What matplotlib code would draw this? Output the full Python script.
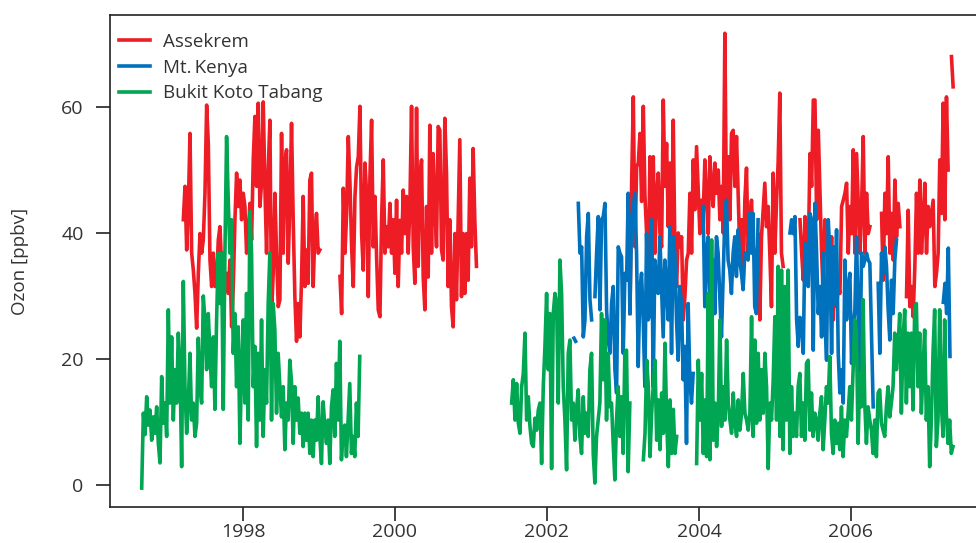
import numpy as np
import matplotlib
matplotlib.use("Agg")
import matplotlib.pyplot as plt

plt.rcParams['font.family'] = ['Open Sans', 'DejaVu Sans']

nan = np.nan
step = 8 / 365.25   # one value every 8 days

# Assekrem (ppbv), segments with their start dates (decimal years)
ass_start = [1997.215, 1999.276, 2003.092, 2005.329]
ass_vals = [
    [42.1, 47.4, 37.3, 44.2, 55.8, 36.8, 34.1, 30.4, 24.9, 33.6,
     39.9, 36.8, 38.9, 46.3, 60.3, 54.2, 35.7, 31.5, 36.8, 31.5,
     32.5, 38.9, 41.0, 34.7, 36.8, 31.5, 33.6, 30.4, 35.7, 25.1,
     31.5, 42.1, 49.5, 44.2, 48.4, 42.1, 46.3, 44.2, 36.8, 39.9,
     44.7, 38.9, 51.6, 58.5, 47.4, 60.6, 44.2, 47.9, 60.8, 47.4,
     36.8, 50.0,
     57.9, 27.2, 33.6, 46.3, 36.8, 28.3, 29.4, 55.8, 36.8, 51.1,
     53.2, 35.2, 44.7, 57.4, 42.1, 29.9, 22.8, 28.8, 23.5, 32.5,
     45.8, 31.5, 37.3, 32.0, 48.4, 49.5, 31.5, 39.9, 43.1, 36.8, 37.3],
    [33.1, 27.2, 47.1, 36.8, 43.1, 55.3, 47.9, 37.8, 31.5, 45.8,
     50.5, 52.1, 60.1, 39.9, 34.1, 51.1, 46.3, 29.9, 48.9, 57.9,
     37.8, 45.8, 36.2, 27.8, 26.7, 42.1, 51.6, 36.8, 41.0, 37.8,
     44.7, 36.8, 42.1, 33.6, 45.2, 31.5,
     42.0, 36.8, 46.8, 39.9, 45.8, 36.8, 44.2, 60.1, 37.8, 32.0,
     59.8, 34.7, 48.4, 51.6, 33.0, 27.8, 44.2, 33.0, 57.1, 36.8,
     52.6, 44.2, 37.8, 56.9, 56.3, 37.3, 35.7, 58.2, 49.5, 31.5,
     42.1, 28.3, 25.1, 39.9, 29.4, 42.1, 54.8, 29.9, 39.9, 30.4,
     39.9, 32.5, 48.7, 37.8, 53.4, 42.1, 34.7],
    [27.2, 47.9, 61.6, 37.8, 50.5, 51.1,
     55.8, 45.0, 60.1, 45.8, 39.9, 33.6, 52.1, 35.7, 52.1, 36.8,
     46.3, 49.5, 40.0, 37.8, 61.1, 47.4, 54.2, 41.0, 51.1, 37.8,
     57.9, 36.8, 31.5, 40.0, 37.8, 39.4, 26.2, 29.9, 35.7, 36.8,
     46.3, 36.8, 51.6, 43.7, 53.7, 46.8, 39.9, 45.2, 43.1, 51.6,
     45.2, 39.9, 52.1, 47.4, 44.2, 51.1, 46.3, 50.0, 42.1, 47.4,
     40.0, 71.7, 42.1, 52.1, 42.1, 55.8, 56.3, 47.4, 55.3, 46.3,
     36.8, 42.1, 31.5, 45.2, 50.3, 36.8, 42.1, 45.2, 37.8, 36.8,
     31.5, 39.9, 26.2, 39.4, 43.7, 47.9, 41.0, 44.2, 36.8, 28.3,
     49.5, 36.8, 44.7, 51.1, 62.2, 36.8, 34.7],
    [42.1, 36.8, 32.5, 42.6, 39.4, 36.8, 52.6, 47.4, 61.1, 61.1,
     42.1, 56.3, 46.3, 36.8, 29.9, 42.1, 39.9, 36.8, 31.5, 39.4,
     26.2, 36.8, 28.3, 31.5, 30.4, 44.2, 45.2, 46.3, 47.9, 36.8,
     44.2, 39.9, 53.2, 36.8, 52.6, 44.7, 36.8, 44.2, 55.3, 36.8,
     46.3, 39.9, 41.0, nan, nan, nan, nan, nan, nan, 43.1,
     32.5, 46.3, 39.9, 52.1, 36.8, 43.1, 35.7, 48.4, 39.4, 44.7,
     41.0, nan, nan, nan, 29.9, 43.6, 28.3, 31.5, 26.7, 34.7,
     46.3, 36.8, 48.4, 36.8, 42.1, 47.9, 36.8, 44.2, 41.0, 43.1,
     45.2, 31.5, 33.6, 36.8, 51.6, 43.1, 60.6, 42.1, 61.6, 50.0,
     nan, 68.0, 63.2],
]

# Mt. Kenya (ppbv)
ken_start = [2002.355, 2002.412, 2005.197, 2007.215]
ken_vals = [
    [23.3, 22.8],
    [44.7, 36.8, 37.8, 23.5, 26.2, 39.4, 43.1, 29.4,
     26.2, nan, 29.9, 36.8, 42.6, 27.8, 42.1, 42.6, 44.7, 27.8,
     23.0, 20.9, 28.8, 31.5, 18.3, 14.6, 37.8, 36.8, 36.2, 20.9,
     33.6, 32.5, 46.3, 27.2, 42.1, 44.2, 46.3, 36.8, 18.8,
     31.0, 33.6, 26.2, 15.6, 39.9, 26.2, 27.2, 42.1, 15.6, 35.7,
     32.5, 30.4, 39.4, 31.5, 23.5, 35.7, 31.5, 26.2, 41.0, 20.9,
     39.4, 36.8, 26.2, 19.8, 31.5, 28.8, 16.7, 22.0, 6.6, 28.8,
     16.7, 13.0, 17.7, nan, nan, nan, nan, nan, 44.2, 28.3,
     36.8, 39.4, 28.3, 32.0, 35.7, 27.2, 39.4, 36.8, 29.9, 23.5,
     32.5, 42.1, 45.2, 35.7, 34.1, 30.4, 36.8, 39.4, 33.1, 40.5,
     35.7, 33.6, 31.0, 36.8, 36.8, 35.7, 43.1, 36.8, 43.1, 28.3,
     27.2, 42.1],
    [40.0, 42.1, 39.9, 42.6, 26.2, 22.0,
     26.6, 26.2, 20.9, 38.4, 34.1, 31.5, 43.1, 42.1, 21.4, 44.7,
     36.8, 27.2, 31.5, 23.5, 36.8, 26.2, 19.8, 42.1, 36.8, 20.9,
     37.8, 28.8, 40.5, 20.9, 14.6, 18.3, 13.0, 35.7, 26.2, 31.5,
     33.6, 19.3, 25.1, 27.8, 39.4, 26.2, 16.7, 36.8, 34.7, 35.7,
     36.8, 35.7, 35.2, 23.5, 12.4, nan, nan, 32.0, 20.9, 36.8,
     33.6, 37.8, 34.7, 27.8, 23.0, 32.5, 27.2, 35.7, 38.9],
    [29.0, 32.0, 27.2, 37.6, 20.4],
]

# Bukit Koto Tabang (ppbv)
bkt_start = [1996.667, 2001.535, 2003.268, 2003.969]
bkt_vals = [
    [-0.5, 11.4, 8.0, 14.0, 9.5, 11.9, 7.1, 10.8, 8.2, 12.4,
     6.6, 3.5, 17.2, 9.8, 13.0, 7.7, 27.8, 13.0, 23.5, 10.3,
     18.3, 13.0, 24.1, 18.3, 2.9, 32.3, 15.6, 8.2, 13.0, 20.9,
     10.3, 13.0, 7.7, 9.8, 23.3, 15.6, 13.0, 30.0, 26.2, 18.3,
     27.2, 20.9, 15.6, 23.5, 12.0, 26.2, 36.8, 28.8, 36.8, 12.0,
     36.8, 55.3, 45.2, 36.8, 42.1, 20.9, 27.2, 15.6, 25.1, 6.6,
     18.3, 26.2, 13.0, 30.4, 10.3, 43.4, 36.8, 15.6, 22.0, 6.1,
     20.9, 10.3, 26.2, 7.7, 18.3, 13.0, 28.8,
     36.8, 10.3, 28.8, 24.6, 11.4, 20.9, 15.6, 10.8, 15.6, 5.6,
     13.0, 10.3, 19.8, 16.4, 6.6, 15.6, 10.3, 13.8, 8.2, 11.4,
     6.1, 11.4, 7.1, 11.4, 5.0, 10.3, 4.5, 10.3, 7.1, 14.0,
     7.7, 3.4, 13.2, 9.3, 6.6, 10.3, 3.4, 12.4, 15.1, 7.7,
     19.3, 10.3, 22.8, 4.0, 8.7, 9.5, 4.5, 10.3, 16.1, 5.0,
     7.7, 4.5, 13.0, 7.7, 20.4],
    [13.0, 16.7, 10.3, 16.1, 9.8, 8.2, 15.6, 17.7, 24.1, 10.3,
     14.0, 9.3, 6.6, 6.1, 10.6, 8.7, 11.9, 13.0, 3.4, 15.6,
     22.0, 30.4, 18.3, 27.2, 2.6, 27.2, 30.4, 28.8, 13.0, 35.7,
     30.4, 15.6, 10.3, 2.4, 20.9, 23.0, 10.3, 13.0, 7.1, 12.0,
     15.1, 7.7, 5.0, 14.0, 8.2, 11.4, 7.7, 18.3, 20.9, 5.0,
     0.3, 7.7, 10.3, 13.0, 27.2, 16.7, 26.2, 10.3, 20.9, 12.4,
     13.0, 6.6, 0.8, 10.3, 15.6, 7.7, 14.0, 5.0, 20.9, 21.4,
     2.1, 13.0],
    [4.0, 8.2, 19.8, 15.6, 4.5, 11.4, 16.1, 19.8, 7.1, 13.5,
     5.6, 14.6, 8.2, 22.5, 10.3, 2.9, 13.5, 5.0, 12.0, 5.0, 7.7],
    [3.4, 19.8, 10.3, 17.7, 5.0, 13.5, 4.5, 30.4, 4.0, 38.9,
     7.1, 13.0, 6.1, 11.4, 26.2, 9.3, 15.6, 10.3, 23.0, 13.0,
     10.3, 8.2, 14.6, 9.8, 7.7, 13.5, 8.7, 11.4, 17.7, 11.4,
     10.3, 8.7, 11.4, 26.7, 7.7, 23.0, 9.8, 20.9, 10.3, 18.3,
     11.4, 20.9, 15.6, 2.6, 13.0, 10.3, 16.7, 26.7, 10.3, 34.7,
     7.7, 34.1, 5.6, 31.5, 10.3, 34.1, 5.0, 15.6, 7.7, 11.4,
     7.7, 15.6,
     17.7, 7.7, 13.0, 7.1, 19.3, 19.8, 8.7, 14.6, 7.7, 11.4,
     10.3, 7.1, 11.4, 14.0, 5.6, 10.3, 15.6, 13.0, 20.4, 8.2,
     5.0, 10.3, 6.6, 9.8, 5.6, 12.4, 4.5, 10.3, 7.7, 11.4,
     15.6, 10.3, 18.3, 26.2, 24.1, 6.6, 17.7, 12.4, 29.4, 13.0,
     6.6, 12.4, 10.3, 8.7, 5.0, 10.3, 4.5, 14.6, 15.1, 9.8,
     8.7, 7.7, 12.4, 15.6, 10.8, 13.0, 15.6, 24.1, 18.3, 22.0,
     27.2, 11.4, 23.0, 27.8, 13.0, 24.1, 15.6, 24.1, 11.9, 27.8,
     28.8, 15.6, 24.1, 11.4, 18.3, 24.6, 10.3, 15.6, 2.9, 10.3,
     20.9, 27.8, 6.1, 10.3, 27.8, 13.0, 7.7, 26.2, 11.4, 6.6,
     10.3, 5.0, 6.1],
]

names = ["Assekrem", "Mt.\u2009Kenya", "Bukit Koto Tabang"]
colors = ["#ee1c25", "#0071bc", "#00a651"]


def join(starts, vals):
    t, v = [], []
    for s, seg in zip(starts, vals):
        t += list(s + step * np.arange(len(seg))) + [nan]
        v += list(seg) + [nan]
    return np.array(t), np.array(v)


fig = plt.figure(figsize=(9.76, 5.43), dpi=100)
ax = fig.add_axes([110 / 976, 36 / 543, 866 / 976, 492 / 543])

for (starts, vals), name, c in zip([(ass_start, ass_vals), (ken_start, ken_vals),
                                     (bkt_start, bkt_vals)], names, colors):
    t, v = join(starts, vals)
    ax.plot(t, v, color=c, lw=2.6, label=name)

ax.set_xlim(1996.25, 2007.645)
ax.set_ylim(-3.5, 74.6)
ax.set_xticks([1998, 2000, 2002, 2004, 2006])
ax.set_yticks([0, 20, 40, 60])

txt = "#333333"
for s in ["left", "bottom", "top"]:
    ax.spines[s].set_color("#222222")
    ax.spines[s].set_linewidth(1.2)
ax.spines["right"].set_visible(False)
ax.tick_params(direction="out", length=10, width=1.2, color="#222222",
               labelcolor=txt, labelsize=14)
ax.tick_params(axis="x", pad=1.5)
ax.tick_params(axis="y", pad=9)
ax.set_ylabel("Ozon [ppbv]", fontsize=13.5, color=txt)
ax.yaxis.set_label_coords(-0.0935, 0.5)

leg = ax.legend(loc="upper left", bbox_to_anchor=(0.0, 0.982), frameon=False,
                fontsize=13.5, handlelength=1.65, handletextpad=0.7,
                labelspacing=0.41, borderpad=0.2, borderaxespad=0.28)
for line in leg.get_lines():
    line.set_linewidth(2.6)
for tx in leg.get_texts():
    tx.set_color(txt)

fig.savefig("out.png", dpi=100)
